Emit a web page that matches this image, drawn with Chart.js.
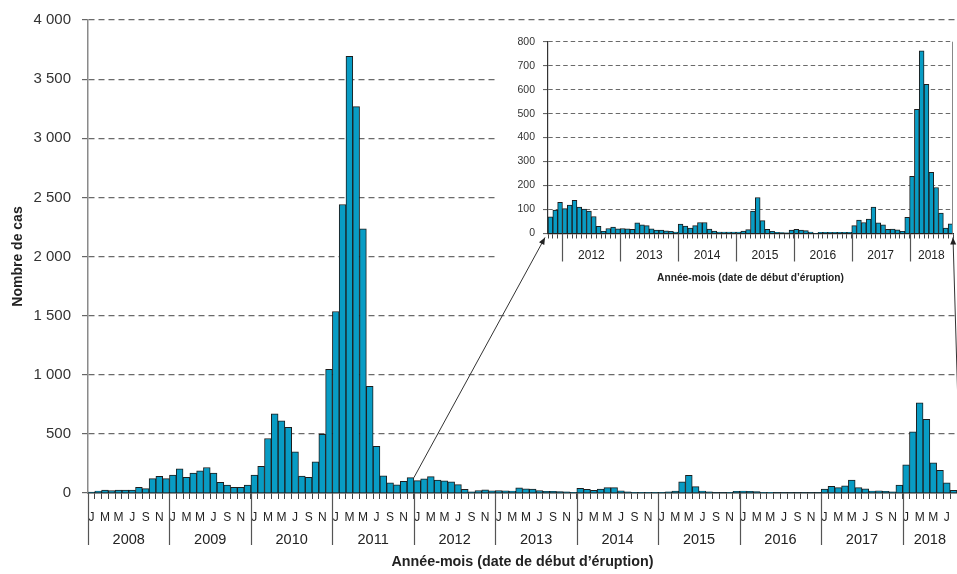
<!DOCTYPE html>
<html><head><meta charset="utf-8">
<script src="https://cdn.jsdelivr.net/npm/chart.js@4.4.0/dist/chart.umd.min.js"></script>
<style>
html,body{margin:0;padding:0;background:#fff;overflow:hidden;}
#wrap{position:relative;width:957px;height:574px;overflow:hidden;}
canvas{position:absolute;left:0;top:0;}
#inset{background:#fff;}
#arrows{pointer-events:none;}
</style></head><body>
<div id="wrap">
<canvas id="main" width="957" height="574"></canvas>
<canvas id="inset" width="460" height="268"></canvas>
<canvas id="arrows" width="957" height="574"></canvas>
</div>
<script>
// ---------- data ----------
const years = ['2008','2009','2010','2011','2012','2013','2014','2015','2016','2017','2018'];
const monthLetters = ['J','F','M','A','M','J','J','A','S','O','N','D'];
const cases2008 = [8, 17, 25, 20, 25, 25, 25, 48, 37, 121, 140, 121];
const cases2009 = [152, 205, 132, 168, 188, 216, 168, 90, 67, 48, 48, 67];
const cases2010 = [152, 225, 461, 669, 610, 556, 348, 143, 132, 264, 497, 1045];
const cases2011 = [1535, 2440, 3692, 3268, 2234, 903, 395, 145, 85, 70, 98, 130];
const cases2012 = [104, 119, 138, 110, 102, 94, 71, 30, 9, 21, 27, 19];
const cases2013 = [21, 19, 17, 44, 36, 33, 20, 14, 14, 11, 9, 6];
const cases2014 = [39, 31, 23, 33, 46, 46, 18, 10, 6, 6, 6, 6];
const cases2015 = [6, 10, 16, 94, 150, 54, 17, 9, 5, 4, 3, 14];
const cases2016 = [17, 14, 12, 6, 1, 5, 5, 5, 5, 5, 5, 5];
const cases2017 = [33, 56, 46, 60, 110, 45, 36, 17, 18, 15, 9, 67];
const cases2018 = [238, 518, 762, 622, 255, 192, 85, 23, 40];
const yTicksMain = [0, 500, 1000, 1500, 2000, 2500, 3000, 3500, 4000];
const yTicksInset = [0, 100, 200, 300, 400, 500, 600, 700, 800];
const yTitle = 'Nombre de cas';
const xTitle = 'Année-mois (date de début d\u2019éruption)';
const mainMonths = 128;      // Jan 2008 .. Aug 2018
const insetStart = 45;       // Oct 2011
const insetEnd = 129;        // .. Sep 2018

// ---------- derived ----------
const allCases = [].concat(cases2008, cases2009, cases2010, cases2011, cases2012, cases2013,
  cases2014, cases2015, cases2016, cases2017, cases2018);
const allMonth = allCases.map((_, i) => i % 12);
const allYear = allCases.map((_, i) => years[Math.floor(i / 12)]);

const FN = "'Liberation Sans',Arial,Helvetica,sans-serif";
const BAR = '#089cc4';
const EDGE = '#1d1d1d';
const INSET_LEFT = 497, INSET_TOP = 25;
const fmt = v => String(v).replace(/\B(?=(\d{3})+(?!\d))/g, ' ');

const yearBands = {
  id: 'yearBands',
  afterDraw(chart, args, o) {
    const {ctx} = chart;
    const xs = chart.scales.x;
    const base = chart.chartArea.bottom;
    const n = chart.data.labels.length;
    const half = (xs.getPixelForValue(1) - xs.getPixelForValue(0)) / 2;
    ctx.save();
    ctx.strokeStyle = o.sepColor; ctx.lineWidth = o.sepWidth;
    ctx.fillStyle = o.color; ctx.font = o.font;
    ctx.textAlign = 'center'; ctx.textBaseline = 'middle';
    let i = 0;
    while (i < n) {
      let j = i;
      while (j + 1 < n && o.yearOf[j + 1] === o.yearOf[i]) j++;
      const left = xs.getPixelForValue(i) - half;
      const right = Math.min(xs.getPixelForValue(j) + half, chart.width);
      if (o.monthOf[i] === 0 || o.sepAtStart && i === 0) {
        const x = Math.round(left) + 0.5;
        ctx.beginPath(); ctx.moveTo(x, base); ctx.lineTo(x, base + o.sepLen); ctx.stroke();
      }
      if (j - i + 1 >= o.minMonths) ctx.fillText(o.yearOf[i], (left + right) / 2, base + o.labelOffset);
      i = j + 1;
    }
    if (o.rightBorder) {
      const a = chart.chartArea;
      ctx.strokeStyle = o.rightBorder; ctx.lineWidth = 1;
      ctx.beginPath(); ctx.moveTo(Math.round(a.right) - 0.5, a.top); ctx.lineTo(Math.round(a.right) - 0.5, a.bottom); ctx.stroke();
    }
    ctx.restore();
  }
};

// ---------- main chart ----------
const mainLabels = allMonth.slice(0, mainMonths).map(m => monthLetters[m]);
const mainData = allCases.slice(0, mainMonths);

const main = new Chart(document.getElementById('main'), {
  type: 'bar',
  data: { labels: mainLabels, datasets: [{ data: mainData, backgroundColor: BAR, borderColor: EDGE,
    borderWidth: 1, barPercentage: 1, categoryPercentage: 1 }] },
  options: {
    responsive: false, animation: false, devicePixelRatio: 1, events: [],
    layout: { padding: { top: 19, right: 0, left: 0, bottom: 0 } },
    plugins: { legend: { display: false }, tooltip: { enabled: false },
      yearBands: { yearOf: allYear.slice(0, mainMonths), monthOf: allMonth.slice(0, mainMonths),
        sepLen: 52, sepColor: '#555', sepWidth: 1.2, sepAtStart: true, color: '#222',
        font: '14.5px ' + FN, labelOffset: 47, minMonths: 6 } },
    scales: {
      x: {
        offset: true,
        grid: { display: true, drawOnChartArea: false, drawTicks: true, tickLength: 6,
          color: '#444', tickColor: '#444', lineWidth: 1, offset: true },
        border: { display: true, color: '#222', width: 1.5 },
        ticks: { autoSkip: false, maxRotation: 0, minRotation: 0, padding: 0, color: '#222',
          font: { family: FN, size: 12, lineHeight: 3.08 },
          callback: (v, i) => (allMonth[i] % 2 === 0 ? mainLabels[i] : '') },
        title: { display: true, text: xTitle, color: '#222',
          font: { family: FN, size: 14.3, weight: 'bold' }, padding: { top: 0, bottom: 3 } },
        afterFit: s => { s.height = 81; }
      },
      y: {
        min: 0, max: 4000,
        afterBuildTicks: s => { s.ticks = yTicksMain.map(v => ({ value: v })); },
        grid: { color: c => (c.tick && c.tick.value === 0 ? 'rgba(0,0,0,0)' : '#6a6a6a'), lineWidth: 1.2,
          drawTicks: true, tickLength: 6, tickColor: '#666', tickBorderDash: [] },
        border: { display: true, color: '#8a8a8a', width: 1.5, dash: [6, 4] },
        ticks: { padding: 11, color: '#333', font: { family: FN, size: 15 }, callback: v => fmt(v) },
        title: { display: true, text: yTitle, color: '#222',
          font: { family: FN, size: 14, weight: 'bold' }, padding: { top: 9.5, bottom: 0 } },
        afterFit: s => { s.width = 88; }
      }
    }
  },
  plugins: [yearBands]
});

// ---------- inset chart ----------
const insetCanvas = document.getElementById('inset');
insetCanvas.style.left = INSET_LEFT + 'px';
insetCanvas.style.top = INSET_TOP + 'px';
const insetLabels = allMonth.slice(insetStart, insetEnd).map(m => monthLetters[m]);
const insetData = allCases.slice(insetStart, insetEnd);

const inset = new Chart(insetCanvas, {
  type: 'bar',
  data: { labels: insetLabels, datasets: [{ data: insetData, backgroundColor: BAR, borderColor: EDGE,
    borderWidth: 1, barPercentage: 1, categoryPercentage: 1 }] },
  options: {
    responsive: false, animation: false, devicePixelRatio: 1, events: [],
    layout: { padding: { top: 16.7, right: 4, left: 0, bottom: 0 } },
    plugins: { legend: { display: false }, tooltip: { enabled: false },
      yearBands: { yearOf: allYear.slice(insetStart, insetEnd), monthOf: allMonth.slice(insetStart, insetEnd),
        sepLen: 28, sepColor: '#555', sepWidth: 1.2, sepAtStart: false, color: '#222',
        font: '12px ' + FN, labelOffset: 22, minMonths: 6, rightBorder: '#888' } },
    scales: {
      x: {
        offset: true,
        grid: { display: true, drawOnChartArea: false, drawTicks: true, tickLength: 5,
          color: '#444', tickColor: '#444', lineWidth: 1, offset: true },
        border: { display: true, color: '#222', width: 1.3 },
        ticks: { display: false },
        title: { display: true, text: xTitle, color: '#222',
          font: { family: FN, size: 10.2, weight: 'bold' }, padding: { top: 0, bottom: 9 } },
        afterFit: s => { s.height = 59.5; }
      },
      y: {
        min: 0, max: 800,
        afterBuildTicks: s => { s.ticks = yTicksInset.map(v => ({ value: v })); },
        grid: { color: c => (c.tick && c.tick.value === 0 ? 'rgba(0,0,0,0)' : '#6a6a6a'), lineWidth: 1.1,
          drawTicks: true, tickLength: 5, tickColor: '#666', tickBorderDash: [] },
        border: { display: true, color: '#333', width: 1.2, dash: [4.5, 3] },
        ticks: { padding: 8, color: '#333', font: { family: FN, size: 10.5 }, callback: v => fmt(v) },
        afterFit: s => { s.width = 51; }
      }
    }
  },
  plugins: [yearBands]
});

// ---------- arrows linking main chart to inset ----------
(function drawArrows() {
  const ctx = document.getElementById('arrows').getContext('2d');
  const mx = main.scales.x, my = main.scales.y;
  const ia = inset.chartArea;
  const halfM = (mx.getPixelForValue(1) - mx.getPixelForValue(0)) / 2;
  function arrow(x1, y1, x2, y2) {
    ctx.save();
    ctx.strokeStyle = '#333'; ctx.fillStyle = '#222'; ctx.lineWidth = 1;
    ctx.beginPath(); ctx.moveTo(x1, y1); ctx.lineTo(x2, y2); ctx.stroke();
    const ang = Math.atan2(y2 - y1, x2 - x1), L = 7, W = 3;
    ctx.beginPath();
    ctx.moveTo(x2, y2);
    ctx.lineTo(x2 - L * Math.cos(ang) + W * Math.sin(ang), y2 - L * Math.sin(ang) - W * Math.cos(ang));
    ctx.lineTo(x2 - L * Math.cos(ang) - W * Math.sin(ang), y2 - L * Math.sin(ang) + W * Math.cos(ang));
    ctx.closePath(); ctx.fill();
    ctx.restore();
  }
  // from the last 2011 bar (Dec 2011) to the inset's start
  const dec2011 = 47;
  arrow(mx.getPixelForValue(dec2011) + halfM, my.getPixelForValue(allCases[dec2011]),
        INSET_LEFT + ia.left - 3, INSET_TOP + ia.bottom + 4);
  // from the last month (beyond the visible edge) to the inset's end
  const last = insetEnd - 1;
  arrow(mx.getPixelForValue(last), my.getPixelForValue(allCases[last]),
        INSET_LEFT + ia.right, INSET_TOP + ia.bottom + 4);
})();
</script>
</body></html>
